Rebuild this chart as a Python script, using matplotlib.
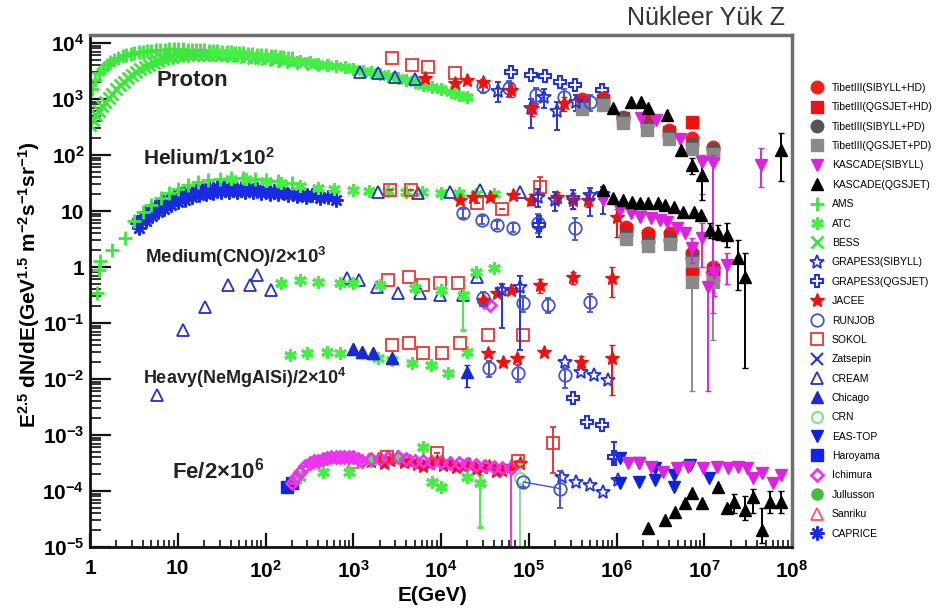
import matplotlib

matplotlib.use("Agg")
import matplotlib.pyplot as plt
import numpy as np
from matplotlib.lines import Line2D
from matplotlib.ticker import FixedLocator, FuncFormatter, NullFormatter

# ---- data (E in GeV, flux already scaled per group) ----
# Proton
P_AMS_E = [1.05, 1.15, 1.25, 1.4, 1.55, 1.7, 1.9, 2.1, 2.35, 2.6, 2.9, 3.2, 3.6, 4.0, 4.5, 5.0, 5.6, 6.3, 7.1, 8,
           9, 10, 11.5, 13, 14.5, 16, 18, 20, 22.5, 25, 28, 32, 36, 40, 45, 50, 56, 63, 71, 80,
           90, 100, 115, 130, 145, 160, 180, 200]
P_AMS_F = [1500, 2200, 2900, 3500, 4000, 4500, 5000, 5400, 5800, 6100, 6400, 6600, 6800, 7000, 7200, 7300, 7400, 7500, 7600, 7700,
           7700, 7700, 7700, 7600, 7600, 7500, 7500, 7400, 7300, 7200, 7100, 7000, 6900, 6800, 6700, 6600, 6500, 6400, 6300, 6200,
           6100, 6000, 5900, 5800, 5700, 5600, 5500, 5400]
P_BESS_E = [1.0, 1.08, 1.17, 1.27, 1.38, 1.5, 1.65, 1.8, 2.0, 2.2, 2.45, 2.7, 3.0, 3.35, 3.75, 4.2, 4.7, 5.3, 6.0, 6.8,
            7.7, 8.7, 10, 11.5, 13, 15, 17, 20, 23, 27, 31, 36, 42, 50, 60, 72, 86, 105, 130, 160,
            200, 260, 340, 450]
P_BESS_F = [350, 430, 520, 620, 740, 880, 1050, 1250, 1500, 1750, 2050, 2350, 2700, 3050, 3400, 3750, 4100, 4450, 4800, 5100,
            5350, 5550, 5750, 5900, 6000, 6100, 6150, 6150, 6150, 6100, 6050, 6000, 5900, 5800, 5650, 5500, 5350, 5200, 5000, 4800,
            4600, 4400, 4200, 4000]
P_ATC_E = [25, 32, 40, 50, 63, 80, 100, 125, 160, 200, 250, 320, 400, 500, 630, 800, 1000, 1300, 1600, 2000,
           2500, 3200, 4000, 5000, 6300, 8000, 10000, 13000, 16000, 20000]
P_ATC_F = [6900, 6800, 6700, 6500, 6300, 6100, 5900, 5600, 5300, 5000, 4800, 4500, 4300, 4100, 3900, 3700, 3500, 3200, 3000, 2800,
           2600, 2400, 2200, 2000, 1800, 1650, 1500, 1350, 1200, 1100]
P_CREAM_E = [1200, 1900, 3000, 5000]
P_CREAM_F = [3000, 2900, 2500, 2300]
P_SOKOL_E = [2800, 4700, 7100, 14500]
P_SOKOL_F = [5400, 4100, 3700, 2900]
P_JACEE_E = [6600, 14500, 20000, 30000, 62000, 110000, 250000]
P_JACEE_F = [2400, 1950, 2200, 2000, 1450, 690, 850]
P_JACEE_LO = [2400, 1950, 2200, 2000, 1100, 500, 600]
P_JACEE_HI = [2400, 1950, 2200, 2000, 1900, 900, 1100]
P_RUNJOB_E = [30000, 60000, 120000, 250000, 500000]
P_RUNJOB_F = [1700, 1600, 1200, 1100, 900]
P_RUNJOB_LO = [1300, 1100, 800, 750, 600]
P_RUNJOB_HI = [2200, 2100, 1600, 1500, 1200]
P_GS_E = [45000, 105000, 150000, 210000, 350000]
P_GS_F = [1400, 700, 1100, 600, 900]
P_GS_LO = [900, 300, 700, 280, 600]
P_GS_HI = [2000, 1000, 1500, 900, 1200]
P_GQ_E = [62000, 105000, 155000, 230000, 340000, 690000]
P_GQ_F = [3000, 2700, 2600, 2000, 1800, 1450]
TIBET_E = [4.0e5, 7.0e5, 1.2e6, 2.2e6, 4.0e6, 7.3e6, 1.27e7]
P_TIB_SH_F = [1000, 1050, 480, 400, 280, 200, 140]
P_TIB_QH_F = [900, 950, 450, 420, 260, 390, 120]
P_TIB_SP_F = [760, 900, 450, 330, 230, 160, 130]
P_TIB_QP_F = [650, 780, 380, 280, 190, 130, 105]
P_KQ_E = [9.2e5, 1.45e6, 1.9e6, 2.3e6, 3.8e6, 5.4e6, 7.3e6, 9.5e6, 7.4e7]
P_KQ_F = [690, 890, 890, 690, 520, 123, 66, 44, 123]
P_KQ_LO = [690, 890, 890, 690, 520, 123, 45, 16, 35]
P_KQ_HI = [690, 890, 890, 690, 520, 123, 90, 81, 245]
P_KS_E = [1.9e6, 2.8e6, 5.3e6, 9.5e6, 1.27e7, 4.4e7]
P_KS_F = [460, 430, 190, 75, 72, 66]
P_KS_LO = [460, 430, 190, 20, 0.15, 27]
P_KS_HI = [460, 430, 190, 100, 100, 133]

# Helium / 1e2
H_AMS_E = [1.2, 1.25, 1.3, 1.8, 2.5, 3.2, 4.0, 5.0, 6.5, 8.0, 10, 13, 17, 22, 30, 40, 55, 75, 100, 140, 200]
H_AMS_F = [0.35, 0.9, 1.3, 2.0, 3.3, 6.5, 9.5, 13, 17, 21, 25, 29, 33, 36, 38, 39, 39, 38, 36, 34, 31]
H_CAP_E = [3.4, 4.0, 4.7, 5.5, 6.5, 7.5, 9.0, 11, 13, 16, 19, 23, 28, 34, 42, 52, 65, 80, 100, 125, 160, 200, 250, 300]
H_CAP_F = [6.0, 8.0, 10, 12, 14, 16, 18, 20, 22, 23, 25, 26, 27, 27, 27, 26, 26, 25, 24, 23, 22, 21, 20, 19]
H_CAP2_E = [3.6, 4.3, 5.1, 6.0, 7.0, 8.3, 10, 12, 14.5, 17.5, 21, 25, 31, 38, 47, 58, 72, 90, 112, 140, 180, 230, 290, 340, 420, 520, 640]
H_CAP2_F = [5.0, 6.5, 8.0, 9.5, 11, 13, 14.5, 16, 17.5, 19, 20, 21, 21.5, 22, 22, 22, 21.5, 21, 20.5, 20, 19, 18.5, 18, 19, 17, 18, 16]
H_ATC_E = [40, 60, 100, 150, 250, 400, 600, 1000, 1500, 2500, 4000, 6000, 10000, 16000, 25000, 40000]
H_ATC_F = [38, 37, 34, 31, 28, 26, 25, 24, 23, 23, 22, 22, 21, 21, 20, 20]
H_CREAM_E = [1900, 5400, 12600, 28000, 80000]
H_CREAM_F = [22, 21, 22, 24, 22]
H_SOKOL_E = [2600, 4500, 26000, 50000, 135000]
H_SOKOL_F = [24, 24, 14, 11, 27]
H_SOKOL_LO = [24, 24, 14, 11, 20]
H_SOKOL_HI = [24, 24, 14, 11, 40]
H_JACEE_E = [16600, 23000, 36000, 66000, 105000, 210000, 320000, 470000, 1.0e6]
H_JACEE_F = [16, 18, 18, 19.5, 16, 18, 16, 16, 7.8]
H_JACEE_LO = [16, 18, 18, 19.5, 13, 14, 11, 12, 3.5]
H_JACEE_HI = [16, 18, 18, 19.5, 20, 22, 21, 20, 11]
H_RUNJOB_E = [18000, 29000, 44000, 67000, 126000, 340000]
H_RUNJOB_F = [9.2, 6.9, 5.6, 5.0, 6.2, 5.0]
H_RUNJOB_LO = [7.5, 5.8, 4.7, 4.2, 4.0, 3.0]
H_RUNJOB_HI = [11, 8, 6.6, 6, 9, 7.5]
H_GS_E = [126000, 200000, 320000, 500000, 700000]
H_GS_F = [18, 16, 17, 19, 20]
H_GS_LO = [12, 10, 11, 8, 9]
H_GS_HI = [25, 22, 24, 26, 27]
H_GQ_E = [130000]
H_GQ_F = [5.6]
H_GQ_LO = [3.5]
H_GQ_HI = [8.0]
H_KQ_E = [7.1e5, 9.1e5, 1.2e6, 1.5e6, 1.86e6, 2.3e6, 2.95e6, 3.6e6, 4.5e6, 5.75e6, 7.6e6, 9.1e6, 1.17e7, 1.45e7, 1.8e7]
H_KQ_F = [23.7, 17, 15.8, 14.5, 13.8, 13.8, 13.8, 12.9, 11.7, 9.5, 9.5, 8.5, 4.6, 4.1, 3.7]
H_KQ_LO = [23.7, 17, 15.8, 14.5, 13.8, 13.8, 13.8, 12.9, 11.7, 9.5, 9.5, 8.5, 3.3, 3.0, 2.3]
H_KQ_HI = [23.7, 17, 15.8, 14.5, 13.8, 13.8, 13.8, 12.9, 11.7, 9.5, 9.5, 8.5, 6.2, 5.6, 6.2]
H_KS_E = [7.1e5, 1.1e6, 1.45e6, 1.86e6, 2.45e6, 3.16e6, 3.8e6, 4.9e6, 6.0e6, 7.2e6, 9.5e6]
H_KS_F = [15.8, 10.5, 9.1, 7.8, 7.5, 6.9, 6.3, 5.0, 4.1, 2.2, 3.3]
H_KS_LO = [15.8, 10.5, 9.1, 7.8, 7.5, 6.9, 6.3, 5.0, 4.1, 1.2, 1.0]
H_KS_HI = [15.8, 10.5, 9.1, 7.8, 7.5, 6.9, 6.3, 5.0, 4.1, 3.3, 6.0]
H_TIB_E = [1.3e6, 2.3e6, 4.1e6, 7.3e6, 1.27e7]
H_TIB_SH_F = [5.2, 4.1, 4.0, 1.8, 1.0]
H_TIB_QH_F = [4.6, 3.6, 3.5, 1.6, 0.9]
H_TIB_SP_F = [3.7, 2.8, 3.0, 1.45, 0.8]
H_TIB_QP_F = [3.2, 2.4, 2.6, 1.2, 0.7]

# Medium (CNO) / 2e3
C_CREAM_E = [5.8, 11.5, 20.4, 37, 66, 79, 117, 850, 1150, 1860, 3240, 5750, 9800, 17800, 25700]
C_CREAM_F = [0.0051, 0.075, 0.19, 0.48, 0.48, 0.72, 0.39, 0.63, 0.59, 0.44, 0.35, 0.35, 0.32, 0.32, 0.66]
C_ATC_E = [150, 250, 400, 700, 1000, 2000, 5000, 10000, 18000, 25000, 40000]
C_ATC_F = [0.51, 0.59, 0.54, 0.51, 0.51, 0.48, 0.42, 0.39, 0.32, 0.81, 0.95]
C_ATC_LO = [0.51, 0.59, 0.54, 0.51, 0.51, 0.48, 0.42, 0.39, 0.075, 0.81, 0.95]
C_SOKOL_E = [2500, 4300, 6200, 9800, 15800]
C_SOKOL_F = [0.59, 0.66, 0.48, 0.51, 0.51]
C_JACEE_E = [30000, 44000, 62000, 135000, 320000, 890000]
C_JACEE_F = [0.26, 0.35, 0.39, 0.48, 0.66, 0.63]
C_JACEE_LO = [0.26, 0.35, 0.39, 0.35, 0.5, 0.29]
C_JACEE_HI = [0.26, 0.35, 0.39, 0.6, 0.8, 1.0]
C_RUNJOB_E = [30000, 85000, 166000, 500000]
C_RUNJOB_F = [0.28, 0.23, 0.21, 0.24]
C_RUNJOB_LO = [0.2, 0.16, 0.15, 0.16]
C_RUNJOB_HI = [0.36, 0.3, 0.28, 0.33]
C_ICH_E = [31000, 36000]
C_ICH_F = [0.24, 0.21]
C_GS_E = [50000, 80000]
C_GS_F = [0.39, 0.44]
C_GS_LO = [0.08, 0.033]
C_GS_HI = [0.5, 0.7]
C_TIB_E = [7.3e6, 1.27e7]
C_TIB_QH_F = [0.75, 0.7]
C_TIB_QP_F = [0.55, 0.55]
C_TIB_LO = [0.006, 0.05]
C_KS_E = [1.1e7, 1.3e7, 1.8e7]
C_KS_F = [0.44, 0.78, 1.1]
C_KS_LO = [0.006, 0.3, 0.5]
C_KS_HI = [0.8, 1.3, 1.8]
C_KQ_E = [2.4e7, 2.95e7]
C_KQ_F = [1.45, 0.66]
C_KQ_LO = [0.39, 0.016]
C_KQ_HI = [3.0, 1.8]

# Heavy (NeMgAlSi) / 2e4
V_ATC_E = [190, 295, 500, 710, 1900, 2800, 4700, 7600, 12000, 20000]
V_ATC_F = [0.027, 0.029, 0.030, 0.029, 0.024, 0.022, 0.0195, 0.018, 0.013, 0.030]
V_CHI_E = [1000, 1260, 1660, 2800, 20000]
V_CHI_F = [0.035, 0.030, 0.029, 0.024, 0.0133]
V_CHI_LO = [0.035, 0.030, 0.029, 0.024, 0.0072]
V_CHI_HI = [0.035, 0.030, 0.029, 0.024, 0.018]
V_SOKOL_E = [2750, 4300, 6300, 10200, 16600, 34000, 85000]
V_SOKOL_F = [0.041, 0.044, 0.029, 0.029, 0.044, 0.062, 0.062]
V_JACEE_E = [34000, 51000, 74000, 148000, 390000, 890000]
V_JACEE_F = [0.029, 0.020, 0.024, 0.030, 0.020, 0.024]
V_JACEE_LO = [0.029, 0.020, 0.024, 0.030, 0.016, 0.0051]
V_JACEE_HI = [0.029, 0.020, 0.024, 0.030, 0.026, 0.041]
V_RUNJOB_E = [35000, 76000, 260000]
V_RUNJOB_F = [0.016, 0.013, 0.0117]
V_RUNJOB_LO = [0.011, 0.009, 0.007]
V_RUNJOB_HI = [0.021, 0.018, 0.016]
V_GS_E = [260000, 390000, 550000, 790000]
V_GS_F = [0.020, 0.0133, 0.0117, 0.0095]
V_GQ_E = [320000, 460000, 680000]
V_GQ_F = [0.0046, 0.0017, 0.0015]

# Fe / 2e6
F_HARO_E = [178, 200]
F_HARO_F = [1.2e-4, 1.4e-4]
F_ICH_E = [200, 225, 250, 285, 320, 360, 400, 450, 500, 560, 630, 710, 790, 900, 1000, 1130, 1260, 1600, 2000, 2500,
           3200, 4000, 5000, 6300, 7900, 10000, 12600, 16000, 20000, 25000, 32000, 40000, 50000, 62000]
F_ICH_F = [1.4e-4, 1.8e-4, 2.2e-4, 2.8e-4, 3.2e-4, 3.4e-4, 3.5e-4, 3.7e-4, 3.9e-4, 4.0e-4, 4.0e-4, 4.1e-4, 4.1e-4, 4.0e-4, 4.0e-4, 3.8e-4, 3.5e-4, 3.7e-4, 3.8e-4, 3.9e-4,
           4.0e-4, 3.7e-4, 3.5e-4, 3.4e-4, 3.3e-4, 3.3e-4, 3.2e-4, 3.1e-4, 3.0e-4, 2.9e-4, 2.8e-4, 2.7e-4, 2.6e-4, 2.6e-4]
F_ICH_LO = [1.4e-4, 1.8e-4, 2.2e-4, 2.8e-4, 3.2e-4, 3.4e-4, 3.5e-4, 3.7e-4, 3.9e-4, 4.0e-4, 4.0e-4, 4.1e-4, 4.1e-4, 4.0e-4, 4.0e-4, 3.8e-4, 3.5e-4, 3.7e-4, 3.8e-4, 3.9e-4,
            4.0e-4, 3.7e-4, 3.5e-4, 3.4e-4, 3.3e-4, 3.3e-4, 3.2e-4, 3.1e-4, 3.0e-4, 2.9e-4, 2.8e-4, 2.7e-4, 2.6e-4, 1e-6]
F_JACEE_E = [1580, 1900, 2240, 2650, 3160, 3750, 4470, 5300, 6300, 7500, 8900, 10600, 12600, 15000, 17800, 21000, 25000, 30000, 35000, 42000,
             50000, 63000, 79000]
F_JACEE_F = [3.5e-4, 3.8e-4, 3.2e-4, 3.6e-4, 4.0e-4, 3.3e-4, 3.5e-4, 3.0e-4, 2.8e-4, 3.2e-4, 3.5e-4, 2.9e-4, 3.2e-4, 2.7e-4, 2.8e-4, 3.0e-4, 2.5e-4, 2.7e-4, 2.8e-4, 2.3e-4,
             2.4e-4, 2.8e-4, 3.2e-4]
F_SAN_E = [1000, 1500, 2500, 4000]
F_SAN_F = [3.3e-4, 3.8e-4, 4.2e-4, 3.6e-4]
F_ATC_E = [250, 450, 890, 1580, 3160, 6300, 7900, 10000, 20000, 28000]
F_ATC_F = [1.8e-4, 2.2e-4, 2.2e-4, 3.5e-4, 4.0e-4, 6.2e-4, 1.45e-4, 1.2e-4, 1.8e-4, 1.4e-4]
F_ATC_LO = [1.8e-4, 2.2e-4, 2.2e-4, 3.5e-4, 4.0e-4, 6.2e-4, 1.45e-4, 1.2e-4, 1.8e-4, 2.3e-5]
F_ATC_HI = [1.8e-4, 2.2e-4, 2.2e-4, 3.5e-4, 4.0e-4, 6.2e-4, 1.45e-4, 1.2e-4, 1.8e-4, 1.9e-4]
F_CRN_E = [79000]
F_CRN_F = [1.7e-4]
F_CRN_LO = [1e-6]
F_CRN_HI = [3e-4]
F_SOKOL_E = [2450, 9100, 76000, 190000]
F_SOKOL_F = [4.1e-4, 4.8e-4, 3.5e-4, 7.2e-4]
F_SOKOL_LO = [4.1e-4, 4.8e-4, 3.5e-4, 2.1e-4]
F_SOKOL_HI = [4.1e-4, 4.8e-4, 3.5e-4, 1.4e-3]
F_RUNJOB_E = [87000, 230000]
F_RUNJOB_F = [1.45e-4, 1.1e-4]
F_RUNJOB_LO = [1.2e-4, 5e-5]
F_RUNJOB_HI = [1.7e-4, 2.3e-4]
F_GS_E = [240000, 350000, 500000, 710000, 1.05e6]
F_GS_F = [1.8e-4, 1.45e-4, 1.3e-4, 9.5e-5, 1.6e-4]
F_GQ_E = [930000]
F_GQ_F = [4.1e-4]
F_GQ_LO = [2.9e-4]
F_GQ_HI = [7.5e-4]
F_EAS_E = [1.1e6, 1.1e6, 1.8e6, 1.8e6, 2.75e6, 2.75e6, 4.5e6, 4.5e6, 6.9e6, 1.12e7]
F_EAS_F = [3.9e-4, 1.4e-4, 3.2e-4, 1.45e-4, 2.6e-4, 1.6e-4, 1.95e-4, 1.2e-4, 2.9e-4, 1.7e-4]
F_KS_E = [1.35e6, 1.8e6, 2.45e6, 3.4e6, 4.9e6, 6.6e6, 9.8e6, 1.4e7, 1.86e7, 2.4e7, 3.1e7, 3.6e7, 4.6e7, 6.0e7, 7.4e7]
F_KS_F = [3.2e-4, 3.2e-4, 2.7e-4, 2.2e-4, 2.6e-4, 2.7e-4, 2.6e-4, 2.7e-4, 2.6e-4, 2.7e-4, 2.6e-4, 1.7e-4, 2.1e-4, 1.4e-4, 1.95e-4]
F_KQ_E = [2.3e6, 3.6e6, 4.7e6, 6.0e6, 7.2e6, 9.5e6, 1.45e7, 1.8e7, 2.2e7, 2.95e7, 3.6e7, 4.6e7, 5.6e7, 7.4e7]
F_KQ_F = [2.2e-5, 3.0e-5, 4.2e-5, 6.2e-5, 9.1e-5, 6.2e-5, 1.17e-4, 5.0e-5, 6.3e-5, 4.6e-5, 7.8e-5, 2.0e-5, 6.3e-5, 6.3e-5]
F_KQ_LO = [2.2e-5, 3.0e-5, 4.2e-5, 6.2e-5, 9.1e-5, 6.2e-5, 1.17e-4, 5.0e-5, 4.0e-5, 3.0e-5, 4.0e-5, 1.2e-5, 4.0e-5, 4.0e-5]
F_KQ_HI = [2.2e-5, 3.0e-5, 4.2e-5, 6.2e-5, 9.1e-5, 6.2e-5, 1.17e-4, 5.0e-5, 9.0e-5, 8.0e-5, 1.1e-4, 5.0e-5, 1.0e-4, 1.0e-4]

GREEN, BLUE = "#3de63d", "#2233dd"
STYLE = {
    "TibetIII(SIBYLL+HD)": dict(marker="o", color="#ff1a1a", mfc="#ff1a1a", ms=9),
    "TibetIII(QGSJET+HD)": dict(marker="s", color="#ee1111", mfc="#ee1111", ms=8),
    "TibetIII(SIBYLL+PD)": dict(marker="o", color="#555555", mfc="#555555", ms=9),
    "TibetIII(QGSJET+PD)": dict(marker="s", color="#8a8a8a", mfc="#8a8a8a", ms=8),
    "KASCADE(SIBYLL)": dict(marker="v", color="#e022e0", mfc="#e022e0", ms=8),
    "KASCADE(QGSJET)": dict(marker="^", color="black", mfc="black", ms=8),
    "AMS": dict(marker="+", color=GREEN, ms=10, mew=2),
    "ATC": dict(marker=(6, 2, 0), color="#44ee44", ms=9, mew=2.2),
    "BESS": dict(marker="x", color=GREEN, ms=8, mew=2),
    "GRAPES3(SIBYLL)": dict(marker="*", color=BLUE, mfc="none", ms=10, mew=1.3),
    "GRAPES3(QGSJET)": dict(marker="P", color=BLUE, mfc="none", ms=9, mew=1.5),
    "JACEE": dict(marker="*", color="#ee1111", mfc="#ee1111", ms=10),
    "RUNJOB": dict(marker="o", color="#4455cc", mfc="none", ms=9, mew=1.3),
    "SOKOL": dict(marker="s", color="#ee3333", mfc="none", ms=9, mew=1.3),
    "Zatsepin": dict(marker="x", color=BLUE, ms=8, mew=1.5),
    "CREAM": dict(marker="^", color="#2233cc", mfc="none", ms=8, mew=1.3),
    "Chicago": dict(marker="^", color="#1a2ad0", mfc="#1a2ad0", ms=8),
    "CRN": dict(marker="o", color="#88dd99", mfc="#eefff0", ms=8, mew=1.5),
    "EAS-TOP": dict(marker="v", color="#1122dd", mfc="#1122dd", ms=8),
    "Haroyama": dict(marker="s", color="#1122ee", mfc="#1122ee", ms=8),
    "Ichimura": dict(marker="D", color="#ee33ee", mfc="none", ms=6, mew=2),
    "Jullusson": dict(marker="o", color="#44bb44", mfc="#44bb44", ms=8),
    "Sanriku": dict(marker="^", color="#ff5555", mfc="none", ms=8, mew=1.3),
    "CAPRICE": dict(marker=(8, 2, 0), color="#1a2ae0", ms=10, mew=1.8),
}

plt.rcParams.update({
    "font.family": ["Liberation Sans", "DejaVu Sans"],
    "mathtext.fontset": "custom",
    "mathtext.rm": "Liberation Sans:bold",
    "mathtext.it": "Liberation Sans:bold",
    "mathtext.bf": "Liberation Sans:bold",
    "mathtext.default": "rm",
})


def draw(ax, name, E, F, lo=None, hi=None, ls="none"):
    st = STYLE[name]
    E = np.asarray(E, float)
    F = np.asarray(F, float)
    if lo is None and hi is None:
        ax.plot(E, F, ls=ls, lw=1, **st)
        return
    lo = F if lo is None else np.asarray(lo, float)
    hi = F if hi is None else np.asarray(hi, float)
    ax.errorbar(E, F, yerr=[F - lo, hi - F], ls=ls, lw=1, elinewidth=1.4, capsize=2.5, **st)


fig = plt.figure(figsize=(9.38, 6.10), dpi=100)
ax = fig.add_axes([90 / 938, 1 - 547 / 610, 702 / 938, 512 / 610])
ax.set_xscale("log")
ax.set_yscale("log")

# green / blue low-energy bands first
draw(ax, "BESS", P_BESS_E, P_BESS_F)
draw(ax, "AMS", P_AMS_E, P_AMS_F)
draw(ax, "ATC", P_ATC_E, P_ATC_F)
draw(ax, "CAPRICE", H_CAP2_E, H_CAP2_F)
draw(ax, "CAPRICE", H_CAP_E, H_CAP_F)
draw(ax, "AMS", H_AMS_E, H_AMS_F)
draw(ax, "ATC", H_ATC_E, H_ATC_F)
draw(ax, "ATC", C_ATC_E, C_ATC_F, C_ATC_LO)
draw(ax, "ATC", V_ATC_E, V_ATC_F)
draw(ax, "ATC", F_ATC_E, F_ATC_F, F_ATC_LO, F_ATC_HI)

# direct measurements at higher energies
for name, E, F in [("CREAM", P_CREAM_E, P_CREAM_F), ("SOKOL", P_SOKOL_E, P_SOKOL_F),
                   ("GRAPES3(QGSJET)", P_GQ_E, P_GQ_F), ("CREAM", H_CREAM_E, H_CREAM_F),
                   ("CREAM", C_CREAM_E, C_CREAM_F), ("SOKOL", C_SOKOL_E, C_SOKOL_F),
                   ("Ichimura", C_ICH_E, C_ICH_F), ("Chicago", V_CHI_E[:4], V_CHI_F[:4]),
                   ("SOKOL", V_SOKOL_E, V_SOKOL_F), ("GRAPES3(SIBYLL)", V_GS_E, V_GS_F),
                   ("GRAPES3(QGSJET)", V_GQ_E, V_GQ_F), ("Sanriku", F_SAN_E, F_SAN_F),
                   ("Haroyama", F_HARO_E, F_HARO_F), ("GRAPES3(SIBYLL)", F_GS_E, F_GS_F),
                   ("EAS-TOP", F_EAS_E, F_EAS_F)]:
    draw(ax, name, E, F)

draw(ax, "Ichimura", F_ICH_E, F_ICH_F, F_ICH_LO)
draw(ax, "JACEE", F_JACEE_E, F_JACEE_F)
draw(ax, "CRN", F_CRN_E, F_CRN_F, F_CRN_LO, F_CRN_HI)
draw(ax, "SOKOL", F_SOKOL_E, F_SOKOL_F, F_SOKOL_LO, F_SOKOL_HI)
draw(ax, "RUNJOB", F_RUNJOB_E, F_RUNJOB_F, F_RUNJOB_LO, F_RUNJOB_HI, ls="-")
draw(ax, "GRAPES3(QGSJET)", F_GQ_E, F_GQ_F, F_GQ_LO, F_GQ_HI)
draw(ax, "Chicago", V_CHI_E, V_CHI_F, V_CHI_LO, V_CHI_HI)

draw(ax, "RUNJOB", P_RUNJOB_E, P_RUNJOB_F, P_RUNJOB_LO, P_RUNJOB_HI)
draw(ax, "GRAPES3(SIBYLL)", P_GS_E, P_GS_F, P_GS_LO, P_GS_HI)
draw(ax, "JACEE", P_JACEE_E, P_JACEE_F, P_JACEE_LO, P_JACEE_HI)
draw(ax, "SOKOL", H_SOKOL_E, H_SOKOL_F, H_SOKOL_LO, H_SOKOL_HI)
draw(ax, "JACEE", H_JACEE_E, H_JACEE_F, H_JACEE_LO, H_JACEE_HI)
draw(ax, "RUNJOB", H_RUNJOB_E, H_RUNJOB_F, H_RUNJOB_LO, H_RUNJOB_HI)
draw(ax, "GRAPES3(SIBYLL)", H_GS_E, H_GS_F, H_GS_LO, H_GS_HI)
draw(ax, "GRAPES3(QGSJET)", H_GQ_E, H_GQ_F, H_GQ_LO, H_GQ_HI)
draw(ax, "JACEE", C_JACEE_E, C_JACEE_F, C_JACEE_LO, C_JACEE_HI)
draw(ax, "RUNJOB", C_RUNJOB_E, C_RUNJOB_F, C_RUNJOB_LO, C_RUNJOB_HI)
draw(ax, "GRAPES3(SIBYLL)", C_GS_E, C_GS_F, C_GS_LO, C_GS_HI)
draw(ax, "JACEE", V_JACEE_E, V_JACEE_F, V_JACEE_LO, V_JACEE_HI)
draw(ax, "RUNJOB", V_RUNJOB_E, V_RUNJOB_F, V_RUNJOB_LO, V_RUNJOB_HI)

# air-shower results
draw(ax, "TibetIII(SIBYLL+HD)", TIBET_E, P_TIB_SH_F)
draw(ax, "TibetIII(QGSJET+HD)", TIBET_E, P_TIB_QH_F)
draw(ax, "TibetIII(SIBYLL+PD)", TIBET_E, P_TIB_SP_F)
draw(ax, "TibetIII(QGSJET+PD)", TIBET_E, P_TIB_QP_F)
draw(ax, "TibetIII(SIBYLL+HD)", H_TIB_E, H_TIB_SH_F)
draw(ax, "TibetIII(QGSJET+HD)", H_TIB_E, H_TIB_QH_F)
draw(ax, "TibetIII(SIBYLL+PD)", H_TIB_E, H_TIB_SP_F)
draw(ax, "TibetIII(QGSJET+PD)", H_TIB_E, H_TIB_QP_F)
draw(ax, "TibetIII(QGSJET+HD)", C_TIB_E, C_TIB_QH_F)
draw(ax, "TibetIII(QGSJET+PD)", C_TIB_E, C_TIB_QP_F, C_TIB_LO)
draw(ax, "KASCADE(SIBYLL)", P_KS_E, P_KS_F, P_KS_LO, P_KS_HI)
draw(ax, "KASCADE(SIBYLL)", H_KS_E, H_KS_F, H_KS_LO, H_KS_HI)
draw(ax, "KASCADE(SIBYLL)", C_KS_E, C_KS_F, C_KS_LO, C_KS_HI)
draw(ax, "KASCADE(SIBYLL)", F_KS_E, F_KS_F)
draw(ax, "KASCADE(QGSJET)", P_KQ_E, P_KQ_F, P_KQ_LO, P_KQ_HI)
draw(ax, "KASCADE(QGSJET)", H_KQ_E, H_KQ_F, H_KQ_LO, H_KQ_HI)
draw(ax, "KASCADE(QGSJET)", C_KQ_E, C_KQ_F, C_KQ_LO, C_KQ_HI)
draw(ax, "KASCADE(QGSJET)", F_KQ_E, F_KQ_F, F_KQ_LO, F_KQ_HI)

ax.set_xlim(1, 1e8)
ax.set_ylim(1e-5, 1.39e4)


# axes cosmetics (ROOT-like)
def decade(v, _pos):
    n = int(round(np.log10(v)))
    if n == 0:
        return "1"
    if n == 1:
        return "10"
    return r"$10^{%d}$" % n


xdec = np.arange(0, 9)
ydec = np.arange(-5, 5)
ax.xaxis.set_major_locator(FixedLocator(10.0 ** xdec))
ax.yaxis.set_major_locator(FixedLocator(10.0 ** ydec))
ax.xaxis.set_minor_locator(FixedLocator([m * 10.0 ** d for d in xdec[:-1] for m in range(2, 10)]))
ax.yaxis.set_minor_locator(FixedLocator([m * 10.0 ** d for d in ydec for m in range(2, 10) if m * 10.0 ** d < 1.39e4]))
ax.xaxis.set_major_formatter(FuncFormatter(decade))
ax.yaxis.set_major_formatter(FuncFormatter(decade))
ax.xaxis.set_minor_formatter(NullFormatter())
ax.yaxis.set_minor_formatter(NullFormatter())
ax.tick_params(which="both", direction="in", top=False, right=False, color="#111")
ax.tick_params(axis="y", which="major", length=15, width=1.6, pad=4, labelsize=15)
ax.tick_params(axis="y", which="minor", length=8, width=1.2)
ax.tick_params(axis="x", which="major", length=10, width=1.6, pad=9, labelsize=15)
ax.tick_params(axis="x", which="minor", length=5, width=1.2)
for lbl in ax.get_xticklabels() + ax.get_yticklabels():
    lbl.set_fontweight("bold")
for side in ("left", "bottom"):
    ax.spines[side].set_linewidth(2)
    ax.spines[side].set_color("#111")
for side in ("top", "right"):
    ax.spines[side].set_linewidth(2.5)
    ax.spines[side].set_color("#6e6e6e")

txt = dict(transform=ax.transAxes, ha="left", va="center", fontweight="bold", color="#222")
ax.text(0.095, 0.912, "Proton", fontsize=16, **txt)
ax.text(0.075, 0.760, "Helium/1×10$^2$", fontsize=15, **txt)
ax.text(0.078, 0.566, "Medium(CNO)/2×10$^3$", fontsize=13.5, **txt)
ax.text(0.075, 0.330, "Heavy(NeMgAlSi)/2×10$^4$", fontsize=13, **txt)
ax.text(0.117, 0.150, "Fe/2×10$^6$", fontsize=16, **txt)

fig.text(0.4606, 0.024, "E(GeV)", ha="center", va="center", fontsize=15, fontweight="bold")
fig.text(0.031, 0.533, r"E$^{2.5}$ dN/dE(GeV$^{1.5}$ m$^{-2}$s$^{-1}$sr$^{-1}$)",
         rotation=90, ha="center", va="center", fontsize=15, fontweight="bold")
fig.text(0.837, 0.970, "Nükleer Yük Z", ha="right", va="center", fontsize=18, color="#333")

handles = [Line2D([], [], ls="none", **STYLE[name]) for name in STYLE]
fig.legend(handles, list(STYLE), loc="upper left", bbox_to_anchor=(812 / 938, 1 - 83 / 610),
           frameon=False, fontsize=7.5, labelspacing=0.9, handlelength=1.0,
           handletextpad=0.9, borderaxespad=0, borderpad=0, markerscale=1.0)

fig.savefig("out.png", dpi=100)
